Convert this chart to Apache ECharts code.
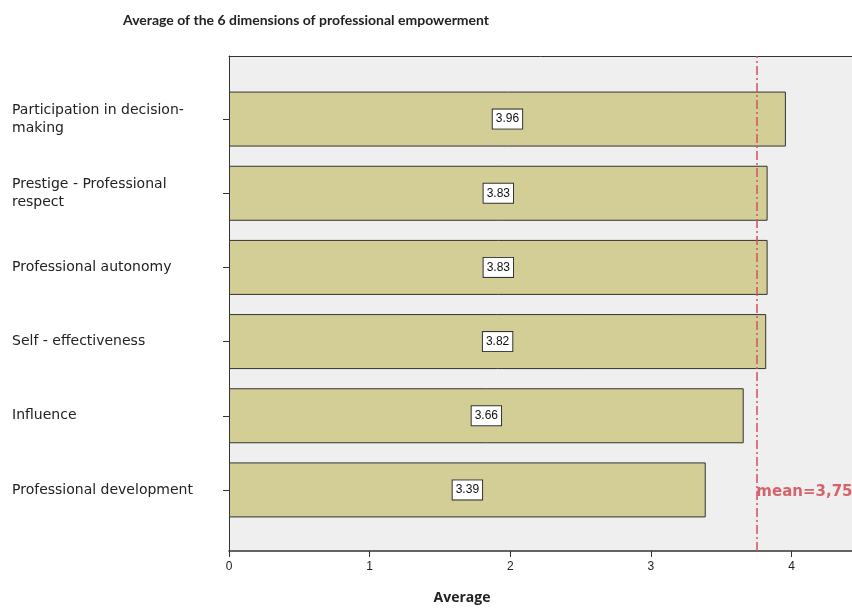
<!DOCTYPE html>
<html>
<head>
<meta charset="utf-8">
<script src="https://cdn.jsdelivr.net/npm/echarts@6/dist/echarts.min.js"></script>
<style>
  html, body { margin: 0; padding: 0; background: #fff; }
  #chart { width: 852px; height: 608px; }
</style>
</head>
<body>
<div id="chart"></div>
<script>
// dimensions of professional empowerment, top to bottom
const categories = [
    'Participation in decision-\nmaking',
    'Prestige - Professional\nrespect',
    'Professional autonomy',
    'Self - effectiveness',
    'Influence',
    'Professional development'
];
const averages = [3.96, 3.83, 3.83, 3.82, 3.66, 3.39];
const meanValue = 3.75;
const meanLabel = 'mean=3,75';
const xTicks = [0, 1, 2, 3, 4];
const xMax = 4.43; // the frame runs off the right edge of the picture

const chart = echarts.init(document.getElementById('chart'));

const plotLeft = 229;

chart.setOption({
    backgroundColor: '#ffffff',
    animation: false,
    title: [
        { text: 'Average of the 6 dimensions of professional empowerment', left: 118, top: 8,
          textStyle: { fontFamily: 'Lato', fontSize: 14, fontWeight: 'bold', color: '#222' } },
        { text: 'Average', left: 457, top: 586, textAlign: 'center',
          textStyle: { fontFamily: 'Open Sans', fontSize: 14, fontWeight: 'bold', color: '#222' } }
    ],
    grid: [
        // plot frame with grey background
        { left: plotLeft, top: 56, right: 0, height: 495, show: true,
          backgroundColor: '#efefef', borderWidth: 0 },
        // bar area (category bands sit inside the frame with padding)
        { left: plotLeft, top: 82, right: 0, height: 445 }
    ],
    xAxis: [
        { gridIndex: 0, type: 'value', min: 0, max: xMax, position: 'bottom',
          axisLine: { show: true, lineStyle: { color: '#333', width: 1.5 } },
          axisTick: { show: true, length: 6, customValues: xTicks, lineStyle: { color: '#333' } },
          axisLabel: { customValues: xTicks, color: '#222', fontFamily: 'Arial', fontSize: 12, margin: 10 },
          splitLine: { show: false } },
        { gridIndex: 0, type: 'value', min: 0, max: xMax, position: 'top',
          axisLine: { show: true, lineStyle: { color: '#333', width: 1 } },
          axisTick: { show: false }, axisLabel: { show: false }, splitLine: { show: false } },
        { gridIndex: 1, type: 'value', min: 0, max: xMax, show: false }
    ],
    yAxis: [
        { gridIndex: 0, type: 'value', min: 0, max: 1,
          axisLine: { show: true, lineStyle: { color: '#333', width: 1 } },
          axisTick: { show: false }, axisLabel: { show: false }, splitLine: { show: false } },
        { gridIndex: 1, type: 'category', data: categories, inverse: true,
          axisLine: { show: false },
          axisTick: { show: true, alignWithLabel: true, length: 6, lineStyle: { color: '#333' } },
          axisLabel: { align: 'left', margin: 217, color: '#222', fontFamily: 'DejaVu Sans',
                       fontSize: 14, lineHeight: 18 } }
    ],
    series: [
        {
            type: 'bar', xAxisIndex: 2, yAxisIndex: 1, data: averages, barWidth: 55,
            itemStyle: { color: '#d3cd96', borderColor: '#333', borderWidth: 1 },
            label: { show: true, position: 'inside', formatter: p => p.value.toFixed(2),
                     color: '#111', fontFamily: 'Arial', fontSize: 12,
                     backgroundColor: '#fff', borderColor: '#333', borderWidth: 1, padding: [4, 3, 3, 3] }
        },
        {
            // mean reference line across the whole frame
            type: 'scatter', xAxisIndex: 0, yAxisIndex: 0, data: [], silent: true,
            markLine: {
                symbol: 'none', silent: true, label: { show: false },
                lineStyle: { color: '#d4505f', width: 1.5, type: [9, 3, 2, 3] },
                data: [{ xAxis: meanValue }]
            }
        },
        {
            // mean label next to the line
            type: 'scatter', xAxisIndex: 2, yAxisIndex: 1, symbolSize: 0, silent: true,
            data: [[meanValue, categories[categories.length - 1]]],
            label: { show: true, position: 'right', distance: 0, offset: [0, 2], formatter: meanLabel,
                     color: '#d0404a', fontFamily: 'DejaVu Sans', fontWeight: 'bold', fontSize: 15 }
        }
    ]
});
</script>
</body>
</html>
